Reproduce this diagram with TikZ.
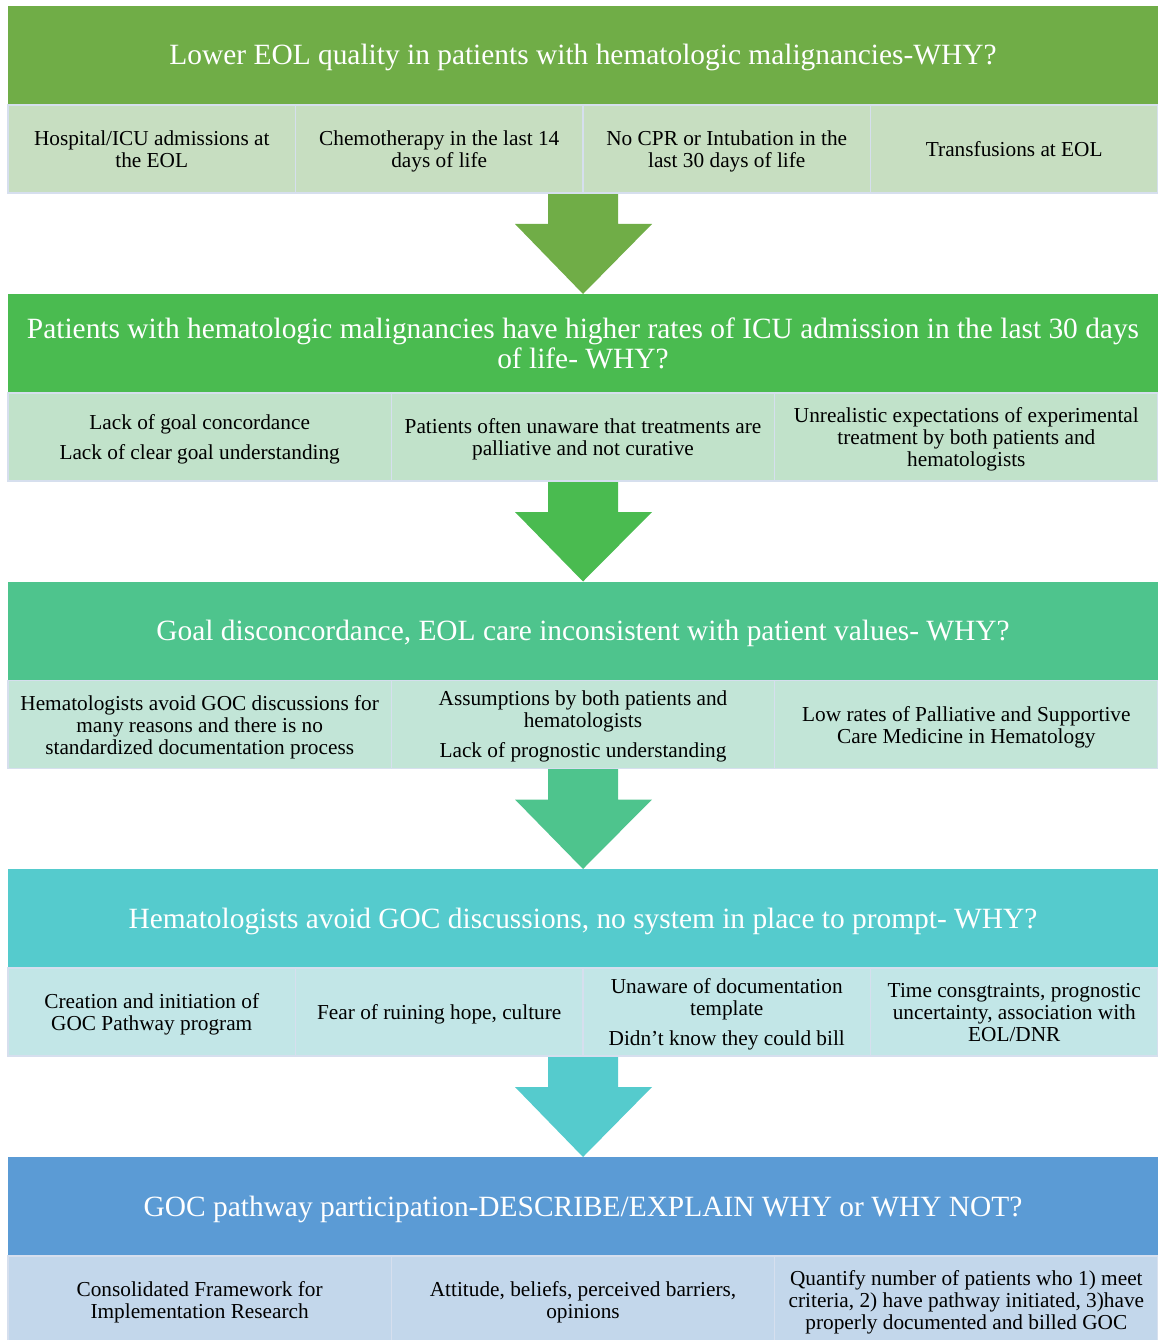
\documentclass[tikz,border=0pt]{standalone}
\usepackage{fontspec}
\setmainfont{Liberation Serif}
\usepackage{xcolor}
\usetikzlibrary{calc}

\definecolor{bandA}{HTML}{70AD47}
\definecolor{bandB}{HTML}{4ABB50}
\definecolor{bandC}{HTML}{4EC48D}
\definecolor{bandD}{HTML}{55CBCD}
\definecolor{bandE}{HTML}{5B9BD5}
\definecolor{cellA}{HTML}{C7DEC1}
\definecolor{cellB}{HTML}{C1E2CA}
\definecolor{cellC}{HTML}{C2E5D7}
\definecolor{cellD}{HTML}{C2E6E7}
\definecolor{cellE}{HTML}{C3D7EB}
\definecolor{cellline}{HTML}{D6DFEE}

\begin{document}
\begin{tikzpicture}[x=1pt,y=1pt,%
% common options for the header bands:
band/.style = {rectangle, text=white, align=center, minimum width=1150pt,
            minimum height=99pt, inner sep=0, font=\fontsize{29.4}{30}\selectfont,
            text depth=1.4pt},
% common options for the cells:
cell/.style = {rectangle, draw=cellline, line width=1.5pt, align=center,
            minimum height=88pt, inner sep=0, font=\fontsize{21.3}{22}\selectfont,
            text depth=-2.4pt},
wide/.style = {cell, minimum width=383.33pt},
narrow/.style = {cell, minimum width=287.5pt}]
\useasboundingbox (0,0) rectangle (1158,-1340);
\clip (0,0) rectangle (1158,-1340);
\coordinate (P1) at (583,-193);
\coordinate (P2) at (583,-481);
\coordinate (P3) at (583,-768.5);
\coordinate (P4) at (583,-1056);
% arrows between the bands
\fill[bandA] ($(P1)+(-35,0)$) -- ($(P1)+(-35,-31)$) -- ($(P1)+(-68,-31)$) -- ($(P1)+(0,-101)$) -- ($(P1)+(69,-31)$) -- ($(P1)+(35,-31)$) -- ($(P1)+(35,0)$) -- cycle;
\fill[bandB] ($(P2)+(-35,0)$) -- ($(P2)+(-35,-31)$) -- ($(P2)+(-68,-31)$) -- ($(P2)+(0,-100.5)$) -- ($(P2)+(69,-31)$) -- ($(P2)+(35,-31)$) -- ($(P2)+(35,0)$) -- cycle;
\fill[bandC] ($(P3)+(-35,0)$) -- ($(P3)+(-35,-31)$) -- ($(P3)+(-68,-31)$) -- ($(P3)+(0,-100.5)$) -- ($(P3)+(69,-31)$) -- ($(P3)+(35,-31)$) -- ($(P3)+(35,0)$) -- cycle;
\fill[bandD] ($(P4)+(-35,0)$) -- ($(P4)+(-35,-31)$) -- ($(P4)+(-68,-31)$) -- ($(P4)+(0,-101)$) -- ($(P4)+(69,-31)$) -- ($(P4)+(35,-31)$) -- ($(P4)+(35,0)$) -- cycle;
% band 1
\node[band,fill=bandA] (T1) at (583,-55.5) {Lower EOL quality in patients with hematologic malignancies-WHY?};
\node[narrow,fill=cellA] (A1) at (151.75,-149) {Hospital/ICU admissions at\\the EOL};
\node[narrow,fill=cellA] (A2) at (439.25,-149) {Chemotherapy in the last 14\\days of life};
\node[narrow,fill=cellA] (A3) at (726.75,-149) {No CPR or Intubation in the\\last 30 days of life};
\node[narrow,fill=cellA] (A4) at (1014.25,-149) {Transfusions at EOL};
% band 2
\node[band,fill=bandB] (T2) at (583,-343.5) {Patients with hematologic malignancies have higher rates of ICU admission in the last 30 days\\of life- WHY?};
\node[wide,fill=cellB] (B1) at (199.67,-437) {Lack of goal concordance\\[8pt]Lack of clear goal understanding};
\node[wide,fill=cellB] (B2) at (583,-437) {Patients often unaware that treatments are\\palliative and not curative};
\node[wide,fill=cellB] (B3) at (966.33,-437) {Unrealistic expectations of experimental\\treatment by both patients and\\hematologists};
% band 3
\node[band,fill=bandC] (T3) at (583,-631) {Goal disconcordance, EOL care inconsistent with patient values- WHY?};
\node[wide,fill=cellC] (C1) at (199.67,-724.5) {Hematologists avoid GOC discussions for\\many reasons and there is no\\standardized documentation process};
\node[wide,fill=cellC] (C2) at (583,-724.5) {Assumptions by both patients and\\hematologists\\[8pt]Lack of prognostic understanding};
\node[wide,fill=cellC] (C3) at (966.33,-724.5) {Low rates of Palliative and Supportive\\Care Medicine in Hematology};
% band 4
\node[band,fill=bandD] (T4) at (583,-918.5) {Hematologists avoid GOC discussions, no system in place to prompt- WHY?};
\node[narrow,fill=cellD] (D1) at (151.75,-1012) {Creation and initiation of\\GOC Pathway program};
\node[narrow,fill=cellD] (D2) at (439.25,-1012) {Fear of ruining hope, culture};
\node[narrow,fill=cellD] (D3) at (726.75,-1012) {Unaware of documentation\\template\\[8pt]Didn't know they could bill};
\node[narrow,fill=cellD] (D4) at (1014.25,-1012) {Time consgtraints, prognostic\\uncertainty, association with\\EOL/DNR};
% band 5
\node[band,fill=bandE] (T5) at (583,-1206.5) {GOC pathway participation-DESCRIBE/EXPLAIN WHY or WHY NOT?};
\node[wide,fill=cellE] (E1) at (199.67,-1300) {Consolidated Framework for\\Implementation Research};
\node[wide,fill=cellE] (E2) at (583,-1300) {Attitude, beliefs, perceived barriers,\\opinions};
\node[wide,fill=cellE] (E3) at (966.33,-1300) {Quantify number of patients who 1) meet\\criteria, 2) have pathway initiated, 3)have\\properly documented and billed GOC};
\end{tikzpicture}
\end{document}
